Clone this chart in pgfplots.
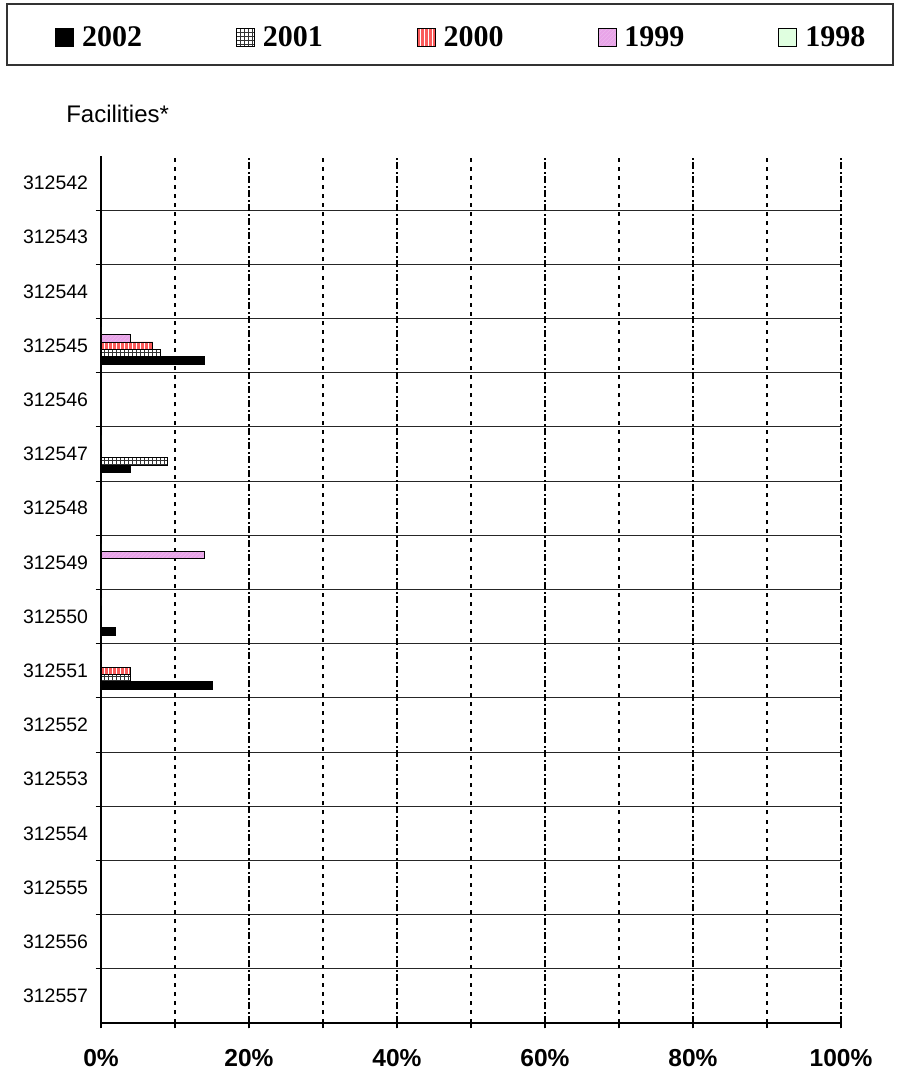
\documentclass[border=0pt]{standalone}
\usepackage{fontspec}
\setmainfont{Liberation Sans}
\newfontfamily\timesfont{Liberation Serif}
\usepackage{pgfplots}
\pgfplotsset{compat=1.18}
\usetikzlibrary{patterns}

\definecolor{c2000}{RGB}{250,90,90}
\definecolor{c1999}{RGB}{232,164,232}
\definecolor{c1998}{RGB}{224,255,224}

\begin{document}
\begin{tikzpicture}
\begin{axis}[
  clip=false,
  xbar=0pt, bar width=5.55pt,
  scale only axis, width=555pt, height=650.25pt,
  xmin=0, xmax=100, ymin=-0.5, ymax=15.5,
  axis x line*=bottom, axis y line*=left,
  axis line style={black, line width=0.8pt, -},
  tick align=outside, major tick length=4pt, minor tick length=4pt,
  tick style={black, line width=0.8pt},
  % x: labels every 20, dotted every 10, dash-dot every 20
  xtick={0,20,...,100},
  xticklabels={0\%,20\%,40\%,60\%,80\%,100\%},
  xticklabel style={font=\bfseries\fontsize{18.4}{22}\selectfont, yshift=-12pt},
  minor xtick={10,30,...,90}, xminorgrids,
  minor grid style={black, line width=1.1pt, dash pattern=on 3pt off 3.8pt},
  extra x ticks={20,40,60,80,100}, extra x tick labels={},
  extra x tick style={grid=major,
    major grid style={black, line width=1.1pt, dash pattern=on 5pt off 2pt on 1.5pt off 2pt}},
  % y: solid lines between the facilities, names in the middle of each band
  ytick={0.5,1.5,...,14.5}, yticklabels={}, ymajorgrids,
  major grid style={black!85, line width=0.8pt, solid},
  extra y ticks={0,1,...,15},
  extra y tick labels={312557,312556,312555,312554,312553,312552,312551,312550,
    312549,312548,312547,312546,312545,312544,312543,312542},
  extra y tick style={major tick length=0pt, grid=none, tick style={draw=none}},
  yticklabel style={font=\fontsize{14.6}{17}\selectfont, xshift=-6.2pt},
  legend columns=5,
  legend style={at={(axis description cs:-0.06216,1.13614)}, anchor=west,
    draw=none, fill=none, inner sep=0pt,
    font=\timesfont\bfseries\fontsize{22.5}{26}\selectfont,
    nodes={inner sep=0pt},
    /tikz/every odd column/.append style={column sep=6pt},
    /tikz/every even column/.append style={column sep=70.5pt}},
  legend image code/.code={\draw[#1] (0pt,-6.3pt) rectangle (13.5pt,7.2pt);},
]
% 2002
\addplot[fill=black, draw=black, line width=0.6pt] coordinates {
  (14,12) (4,10) (2,7) (15,6)
};
% 2001
\addplot[fill=white, draw=black, line width=0.6pt,
  postaction={pattern=grid, pattern color=black!80}] coordinates {
  (8,12) (9,10) (4,6)
};
% 2000
\addplot[fill=c2000, draw=black, line width=0.6pt,
  postaction={pattern=vertical lines, pattern color=white}] coordinates {
  (7,12) (4,6)
};
% 1999
\addplot[fill=c1999, draw=black, line width=0.6pt,
  postaction={pattern=north east lines, pattern color=c1999!80!white}] coordinates {
  (4,12) (14,8)
};
% 1998
\addplot[fill=c1998, draw=black, line width=0.6pt] coordinates {
  (0,12) (0,10) (0,8) (0,7) (0,6)
};
\legend{2002,2001,2000,1999,1998}

\draw[black!80, line width=0.8pt] (axis description cs:-0.12703,1.10496)
  rectangle (axis description cs:1.07027,1.17532);
\node[anchor=base west, inner sep=0pt, font=\fontsize{18}{21}\selectfont]
  at (axis description cs:-0.0473,1.0392) {Facilities*};
\path (axis description cs:-0.13649,-0.06113) rectangle (axis description cs:1.07432,1.17993);
\end{axis}
\end{tikzpicture}
\end{document}
